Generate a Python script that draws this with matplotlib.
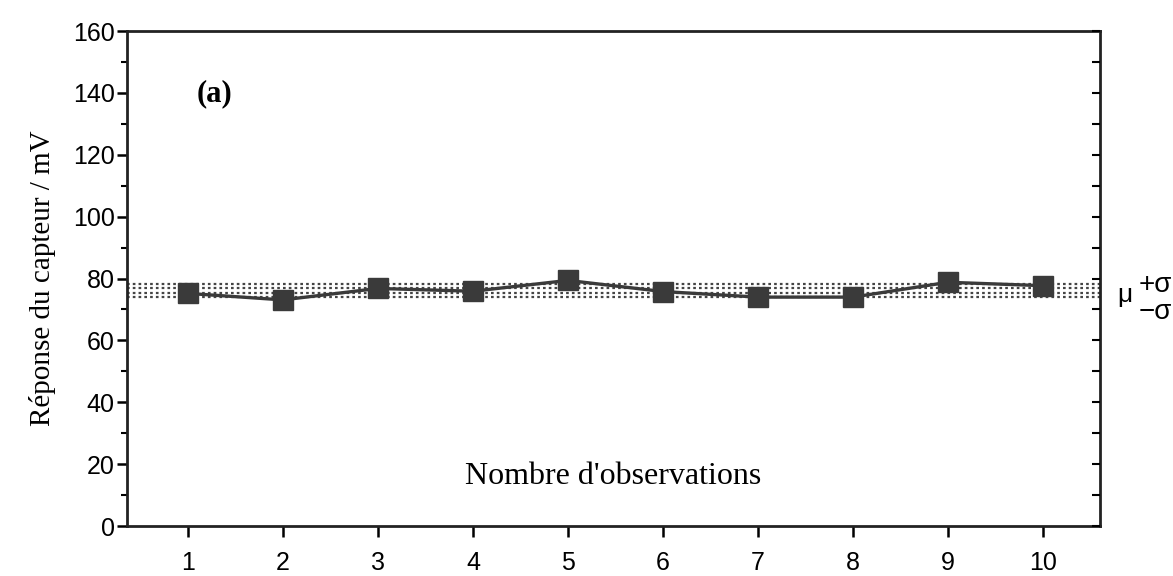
import numpy as np
import matplotlib.pyplot as plt
from matplotlib.ticker import MultipleLocator

# Réponses mesurées pour chaque observation (mV)
observations = [1, 2, 3, 4, 5, 6, 7, 8, 9, 10]
reponses = [75.2, 73.1, 76.8, 75.9, 79.4, 75.8, 74.0, 74.0, 78.8, 77.7]

moyenne = np.mean(reponses)
ecart_type = np.std(reponses, ddof=1)

fig = plt.figure(figsize=(11.73, 5.76), dpi=100)
fig.patch.set_facecolor("white")
ax = fig.add_axes([0.1083, 0.0868, 0.9378 - 0.1083, 0.946 - 0.0868])

serif = "Liberation Serif"
sans = "Liberation Sans"
gris = "#3a3a3a"

# Bande mu +/- sigma en pointillés
niveaux = [moyenne + ecart_type, moyenne + 0.35 * ecart_type,
           moyenne - 0.35 * ecart_type, moyenne - ecart_type]
for niv in niveaux:
    ax.axhline(niv, color="#444444", linestyle=(0, (1.2, 1.4)), linewidth=1.6, zorder=2)

ax.plot(observations, reponses, color=gris, linewidth=2.4, marker="s",
        markersize=14, markerfacecolor=gris, markeredgecolor=gris, zorder=5)

ax.set_xlim(0.36, 10.6)
ax.set_ylim(0, 160)
ax.set_xticks(observations)
ax.yaxis.set_major_locator(MultipleLocator(20))
ax.yaxis.set_minor_locator(MultipleLocator(10))

ax.tick_params(axis="x", which="major", direction="out", length=8, width=1.8,
               labelsize=18, pad=10, top=False)
ax.tick_params(axis="y", which="major", direction="out", length=7, width=1.8,
               labelsize=18, pad=2, right=False)
ax.tick_params(axis="y", which="minor", direction="out", length=4, width=1.5,
               right=False)
for lab in ax.get_xticklabels() + ax.get_yticklabels():
    lab.set_fontfamily(sans)

# graduations intérieures sur l'axe de droite
ax_d = ax.twinx()
ax_d.set_ylim(0, 160)
ax_d.yaxis.set_major_locator(MultipleLocator(10))
ax_d.tick_params(axis="y", direction="in", length=6, width=1.5, labelright=False)
for sp in ax_d.spines.values():
    sp.set_visible(False)

for sp in ax.spines.values():
    sp.set_linewidth(2.0)
    sp.set_color("#222222")

ax.set_ylabel("Réponse du capteur / mV", fontfamily=serif, fontsize=21, labelpad=12)

ax.text(0.5, 0.1, "Nombre d'observations", transform=ax.transAxes, ha="center",
        va="center", fontfamily=serif, fontsize=23)
ax.text(0.09, 0.873, "(a)", transform=ax.transAxes, ha="center", va="center",
        fontfamily=serif, fontsize=22, fontweight="bold")

# repères mu et sigma à droite
trans = ax.get_yaxis_transform()
ax.text(1.018, moyenne - 0.6 * ecart_type, "μ", transform=trans, ha="left", va="center",
        fontsize=19, fontfamily=sans, clip_on=False)
ax.text(1.04, moyenne + 0.9 * ecart_type, "+σ", transform=trans, ha="left", va="center",
        fontsize=20, fontfamily=sans, clip_on=False)
ax.text(1.04, moyenne - 3.2 * ecart_type, "−σ", transform=trans, ha="left", va="center",
        fontsize=20, fontfamily=sans, clip_on=False)

fig.savefig("out.png", dpi=100, facecolor="white")
